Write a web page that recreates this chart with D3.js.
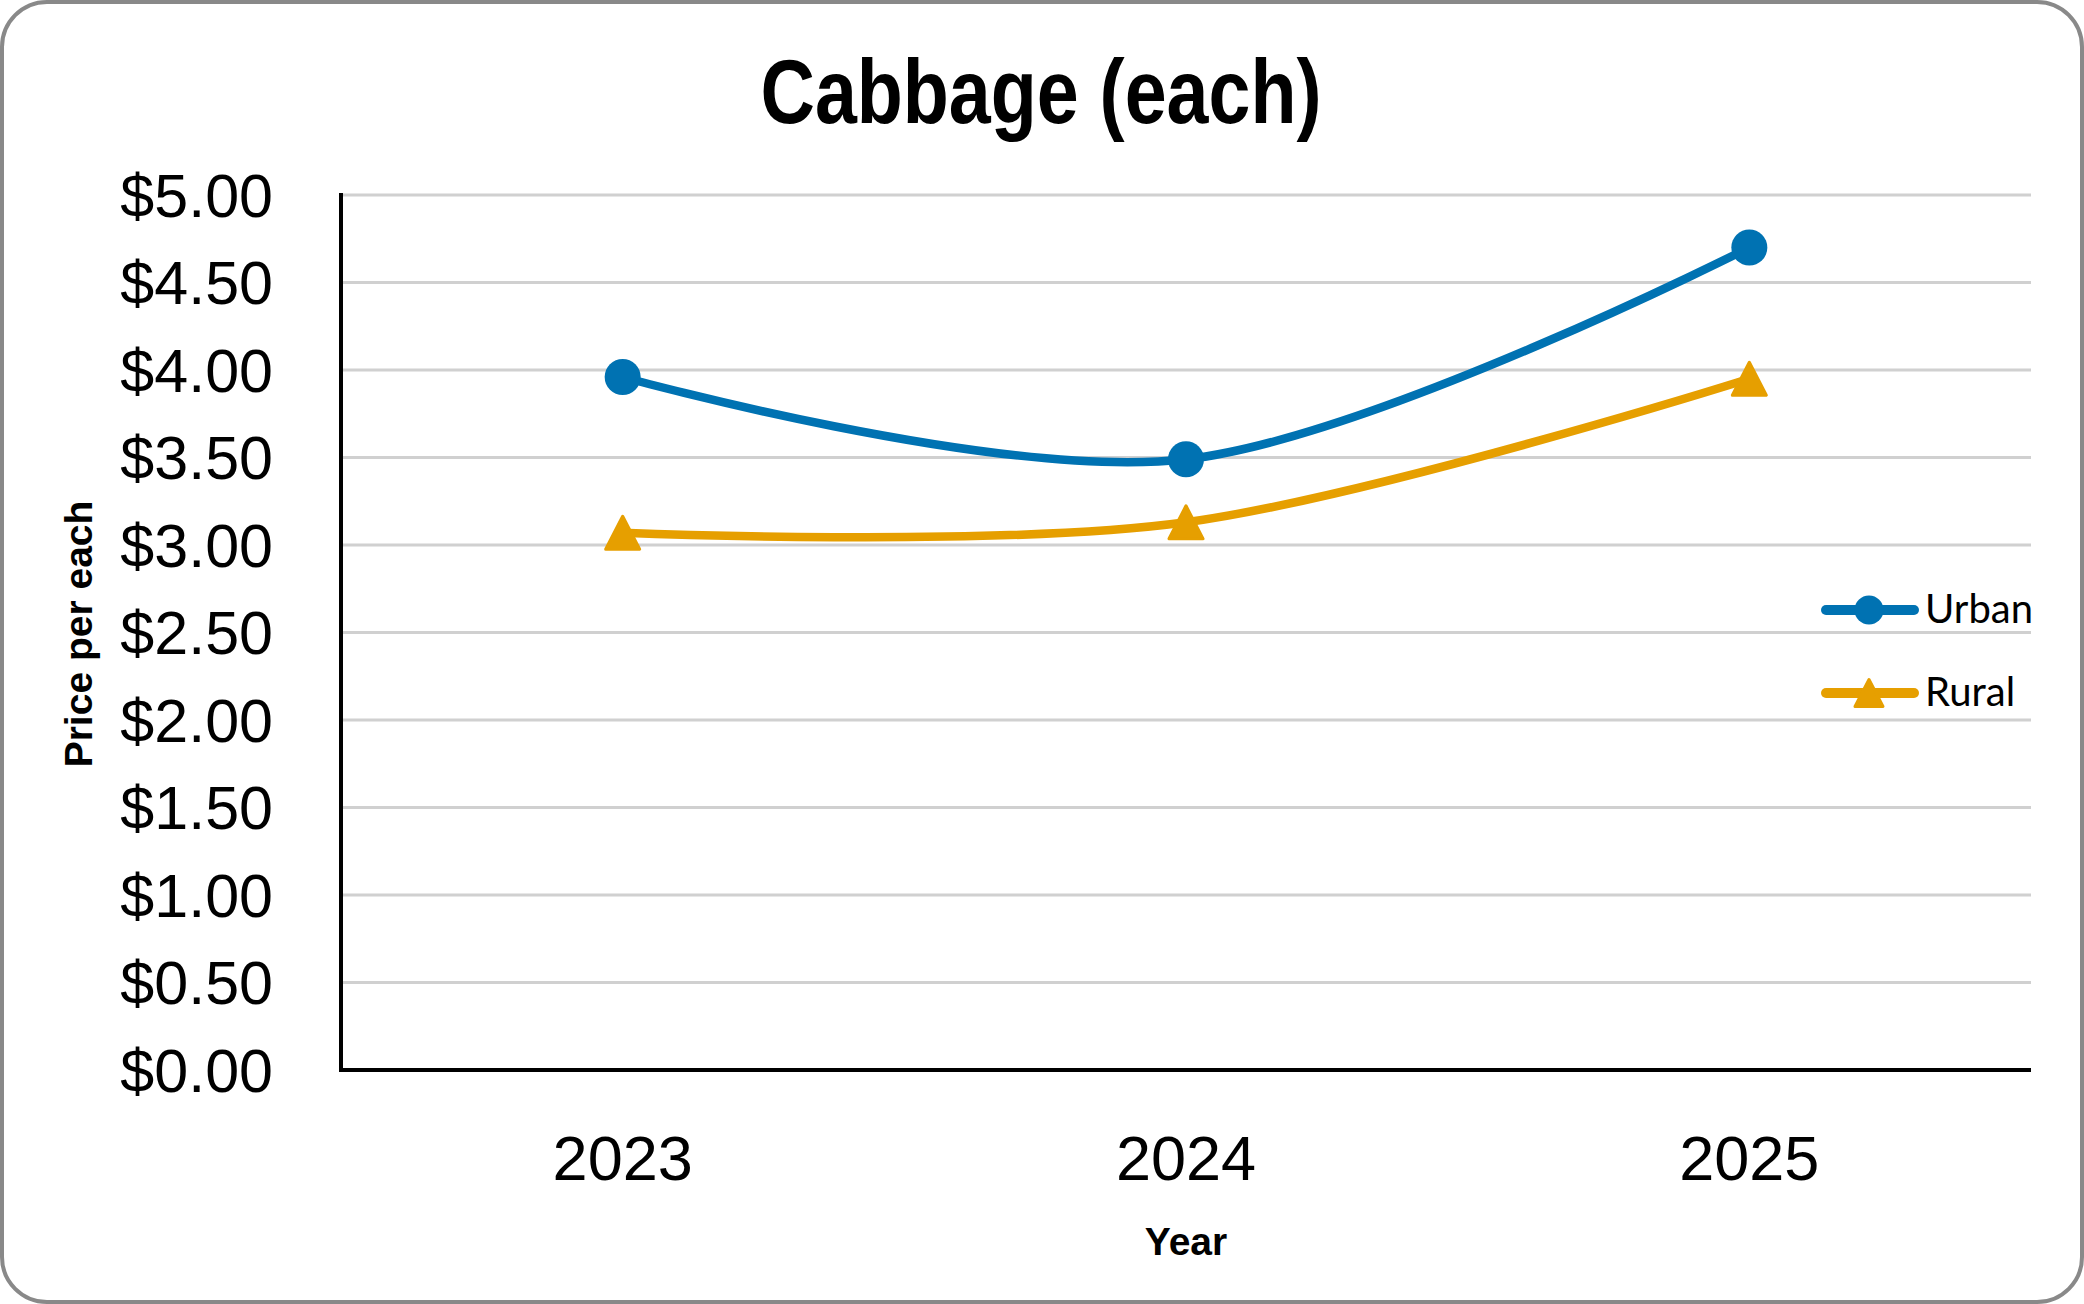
<!DOCTYPE html>
<html>
<head>
<meta charset="utf-8">
<script src="https://cdn.jsdelivr.net/npm/d3@7"></script>
<style>
  html, body { margin: 0; padding: 0; background: #fff; }
  svg { display: block; }
</style>
</head>
<body>
<svg id="chart" width="2084" height="1304"></svg>
<script>
// ---- data ----
const years = ["2023", "2024", "2025"];
const urban = [3.96, 3.49, 4.70];
const rural = [3.07, 3.13, 3.95];
const seriesNames = ["Urban", "Rural"];
const yTicks = [0, 0.5, 1, 1.5, 2, 2.5, 3, 3.5, 4, 4.5, 5];
const titleText = "Cabbage (each)";
const xTitle = "Year";
const yTitle = "Price per each";

// ---- layout ----
const W = 2084, H = 1304;
const plot = { left: 341, right: 2031, top: 195, bottom: 1070 };
const colors = { Urban: "#0072B2", Rural: "#E69F00" };

const svg = d3.select("#chart");

// border
svg.append("rect")
  .attr("x", 2).attr("y", 2).attr("width", W - 4).attr("height", H - 4)
  .attr("rx", 45).attr("ry", 45)
  .attr("fill", "#fff").attr("stroke", "#898989").attr("stroke-width", 4);

const x = d3.scaleBand().domain(years).range([plot.left, plot.right]);
const cx = d => x(d) + x.bandwidth() / 2;
const y = d3.scaleLinear().domain([0, 5]).range([plot.bottom, plot.top]);

// gridlines
svg.append("g").selectAll("line")
  .data(yTicks.filter(t => t > 0))
  .join("line")
  .attr("x1", plot.left).attr("x2", plot.right)
  .attr("y1", d => y(d)).attr("y2", d => y(d))
  .attr("stroke", "#d0d0d0").attr("stroke-width", 3);

// y axis labels
const yAxis = d3.axisLeft(y).tickValues(yTicks).tickSize(0).tickPadding(68)
  .tickFormat(d3.format("$.2f"));
const gy = svg.append("g").attr("transform", `translate(${plot.left},0)`).call(yAxis);
gy.select(".domain").remove();
gy.selectAll("text")
  .attr("font-family", "'Liberation Sans', Arial, sans-serif")
  .attr("font-size", 61).attr("fill", "#000").attr("dy", "0.35em");

// x axis labels
const xAxis = d3.axisBottom(x).tickSize(0).tickPadding(0);
const gx = svg.append("g").attr("transform", `translate(0,${plot.bottom})`).call(xAxis);
gx.select(".domain").remove();
gx.selectAll("text")
  .attr("font-family", "'Liberation Sans', Arial, sans-serif")
  .attr("font-size", 63).attr("fill", "#000")
  .attr("dy", null).attr("y", 110);

// axis lines
svg.append("line")
  .attr("x1", plot.left).attr("x2", plot.left)
  .attr("y1", plot.top - 2).attr("y2", plot.bottom + 2)
  .attr("stroke", "#000").attr("stroke-width", 4);
svg.append("line")
  .attr("x1", plot.left - 2).attr("x2", plot.right)
  .attr("y1", plot.bottom).attr("y2", plot.bottom)
  .attr("stroke", "#000").attr("stroke-width", 4);

// series
const line = d3.line().x(d => cx(d.year)).y(d => y(d.value))
  .curve(d3.curveCardinal.tension(0));

const triPath = (w, h) => `M0,${-h/2}L${w/2},${h/2}L${-w/2},${h/2}Z`;

const series = [
  { name: "Urban", values: urban },
  { name: "Rural", values: rural }
];

series.forEach(s => {
  const pts = years.map((yr, i) => ({ year: yr, value: s.values[i] }));
  svg.append("path")
    .datum(pts)
    .attr("d", line)
    .attr("fill", "none")
    .attr("stroke", colors[s.name])
    .attr("stroke-width", 8.5)
    .attr("stroke-linecap", "round");
  const g = svg.append("g");
  if (s.name === "Urban") {
    g.selectAll("circle").data(pts).join("circle")
      .attr("cx", d => cx(d.year)).attr("cy", d => y(d.value))
      .attr("r", 18).attr("fill", colors[s.name]);
  } else {
    g.selectAll("path").data(pts).join("path")
      .attr("d", triPath(34, 33))
      .attr("transform", d => `translate(${cx(d.year)},${y(d.value)})`)
      .attr("fill", colors[s.name])
      .attr("stroke", colors[s.name]).attr("stroke-width", 3)
      .attr("stroke-linejoin", "round");
  }
});

// legend
const legendY = [610, 693];
seriesNames.forEach((name, i) => {
  const ly = legendY[i];
  const g = svg.append("g");
  g.append("line")
    .attr("x1", 1826).attr("x2", 1914).attr("y1", ly).attr("y2", ly)
    .attr("stroke", colors[name]).attr("stroke-width", 10)
    .attr("stroke-linecap", "round");
  if (name === "Urban") {
    g.append("circle").attr("cx", 1869).attr("cy", ly).attr("r", 14.5)
      .attr("fill", colors[name]);
  } else {
    g.append("path").attr("d", triPath(28, 27))
      .attr("transform", `translate(1869,${ly})`)
      .attr("fill", colors[name]).attr("stroke", colors[name])
      .attr("stroke-width", 3).attr("stroke-linejoin", "round");
  }
  g.append("text")
    .attr("x", 1925).attr("y", ly + 13)
    .attr("font-family", "Lato, 'Noto Sans', sans-serif")
    .attr("font-size", 40).attr("fill", "#000")
    .text(name);
});

// title
svg.append("text")
  .attr("x", 1041).attr("y", 123)
  .attr("text-anchor", "middle")
  .attr("font-family", "'Liberation Sans Narrow', 'Liberation Sans', sans-serif")
  .attr("font-weight", "bold")
  .attr("font-size", 91)
  .attr("fill", "#000")
  .attr("textLength", 561).attr("lengthAdjust", "spacingAndGlyphs")
  .text(titleText);

// axis titles
svg.append("text")
  .attr("x", (plot.left + plot.right) / 2).attr("y", 1255)
  .attr("text-anchor", "middle")
  .attr("font-family", "'Liberation Sans', Arial, sans-serif")
  .attr("font-weight", "bold").attr("font-size", 39).attr("fill", "#000")
  .text(xTitle);

svg.append("text")
  .attr("transform", `translate(92,634) rotate(-90)`)
  .attr("text-anchor", "middle")
  .attr("font-family", "'Liberation Sans', Arial, sans-serif")
  .attr("font-weight", "bold").attr("font-size", 39).attr("fill", "#000")
  .text(yTitle);
</script>
</body>
</html>
